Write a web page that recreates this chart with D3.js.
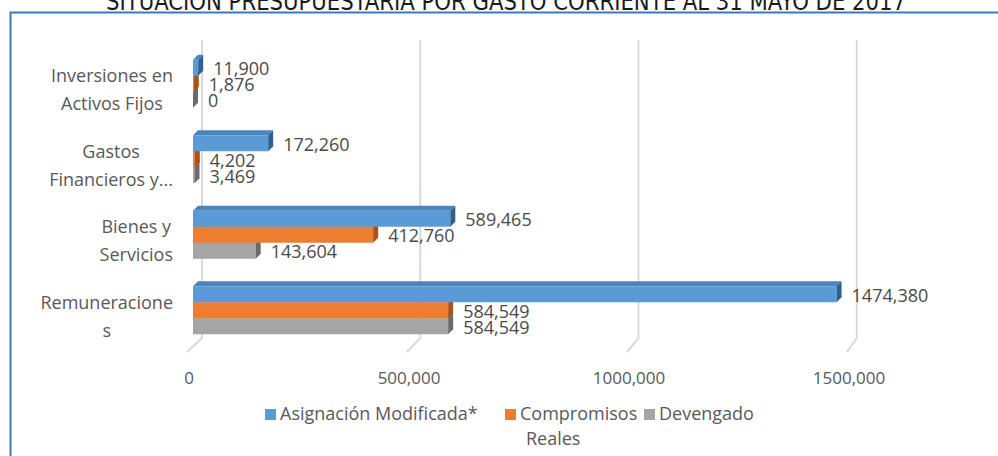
<!DOCTYPE html>
<html><head><meta charset="utf-8">
<script src="https://cdn.jsdelivr.net/npm/d3@7"></script>
<style>body{margin:0;background:#fff}svg{display:block}</style>
</head><body>
<svg id="c" width="998" height="456"></svg>
<script>
const title = "SITUACION PRESUPUESTARIA POR GASTO CORRIENTE AL 31 MAYO DE 2017";
const categories = ["Inversiones en Activos Fijos", "Gastos Financieros y...", "Bienes y Servicios", "Remuneraciones"];
const categoryLines = [["Inversiones en", "Activos Fijos"], ["Gastos", "Financieros y..."], ["Bienes y", "Servicios"], ["Remuneracione", "s"]];
const seriesNames = ["Asignación Modificada*", "Compromisos", "Devengado"];
const asignacion = [11900, 172260, 589465, 1474380];
const compromisos = [1876, 4202, 412760, 584549];
const devengado = [0, 3469, 143604, 584549];
const tickValues = [0, 500000, 1000000, 1500000];
const tickLabels = ["0", "500,000", "1000,000", "1500,000"];
const legendLabels = ["Asignación Modificada*", "Compromisos", "Devengado"];
const legendExtra = "Reales";

const seriesValues = [asignacion, compromisos, devengado];
const front = ["#5B9BD5", "#ED7D31", "#A5A5A5"];
const topC = ["#4A84BD", "#D46A22", "#929292"];
const sideC = ["#2F6090", "#A9531A", "#6B6B6B"];
const fmt = v => v >= 1000 ? Math.floor(v / 1000) + "," + String(v % 1000).padStart(3, "0") : String(v);
const FONT = "'Open Sans', 'Noto Sans', sans-serif";
const TXT = "#595959";

const svg = d3.select("#c");
svg.append("rect").attr("width", 998).attr("height", 456).attr("fill", "#fff");

// title (cut at top)
svg.append("text").attr("x", 106).attr("y", 9.5)
  .attr("textLength", 800).attr("lengthAdjust", "spacingAndGlyphs")
  .attr("font-family", "'Liberation Sans Narrow','Arial Narrow','DejaVu Sans Condensed',sans-serif")
  .attr("font-size", 24).attr("fill", "#1a1a1a").text(title);

// frame
svg.append("path").attr("d", "M10.5,460 L10.5,12.5 L1000,12.5")
  .attr("fill", "none").attr("stroke", "#3A78BF").attr("stroke-width", 2);

const x = d3.scaleLinear().domain([0, 1500000]).range([193, 193 + 654.75]);
const xFront = d3.scaleLinear().domain([0, 1500000]).range([187, 187 + 660]);
const y = d3.scaleBand().domain(categories).range([46, 348]).paddingInner(0.364).paddingOuter(0.182);
const ys = d3.scaleBand().domain(seriesNames).range([0, y.bandwidth()]);
const BX = 9, TOPY = 40, BACKY = 338, FRONTY = 352, D = 5;

// gridlines (back wall) + floor diagonals
const g = svg.append("g");
tickValues.forEach(t => {
  const xb = x(t) + BX, xf = xFront(t);
  g.append("path").attr("d", `M${xb},${TOPY} L${xb},${BACKY} L${xf},${FRONTY}`)
    .attr("fill", "none").attr("stroke", "#d9d9d9").attr("stroke-width", 2);
});
g.selectAll("text.tick").data(tickValues).join("text")
  .attr("x", d => xFront(d) + 2).attr("y", 378).attr("dy", "0.35em")
  .attr("text-anchor", "middle").attr("font-family", FONT).attr("font-size", 17)
  .attr("fill", TXT).text((d, i) => tickLabels[i]);

// bars
const bars = svg.append("g");
categories.forEach((c, ci) => {
  [2, 1, 0].forEach(si => {
    const v = seriesValues[si][ci];
    const x0 = x(0), x1 = x(v), yt = y(c) + ys(seriesNames[si]), h = ys.bandwidth();
    bars.append("polygon")
      .attr("points", `${x0},${yt} ${x1},${yt} ${x1 + D},${yt - D} ${x0 + D},${yt - D}`)
      .attr("fill", topC[si]);
    bars.append("rect").attr("x", x0).attr("y", yt).attr("width", x1 - x0).attr("height", h)
      .attr("fill", front[si]);
    bars.append("polygon")
      .attr("points", `${x1},${yt} ${x1 + D},${yt - D} ${x1 + D},${yt + h - D} ${x1},${yt + h}`)
      .attr("fill", sideC[si]);
  });
});
// value labels
const lab = svg.append("g");
categories.forEach((c, ci) => {
  seriesNames.forEach((s, si) => {
    const v = seriesValues[si][ci];
    lab.append("text").attr("x", x(v) + 15).attr("y", y(c) + ys(s) + ys.bandwidth() / 2 + 1)
      .attr("dy", "0.35em").attr("font-family", FONT).attr("font-size", 18)
      .attr("fill", "#4a4a4a").text(fmt(v));
  });
});

// category labels
const cl = svg.append("g");
categories.forEach((c, ci) => {
  const cy = y(c) + y.bandwidth() / 2 + 6;
  const lines = categoryLines[ci];
  const texts = lines.map((l, li) => cl.append("text")
    .attr("y", cy + (li - (lines.length - 1) / 2) * 28).attr("dy", "0.35em")
    .attr("text-anchor", "middle").attr("font-family", FONT).attr("font-size", 18)
    .attr("fill", TXT).text(l));
  const w = d3.max(texts, t => t.node().getComputedTextLength());
  texts.forEach(t => t.attr("x", 173 - w / 2));
});

// legend
const lg = svg.append("g");
const legX = [265, 505, 644];
legendLabels.forEach((l, i) => {
  lg.append("rect").attr("x", legX[i]).attr("y", 409).attr("width", 11).attr("height", 11).attr("fill", front[i]);
  lg.append("text").attr("x", legX[i] + 15).attr("y", 414).attr("dy", "0.35em")
    .attr("font-family", FONT).attr("font-size", 18).attr("fill", TXT).text(l);
});
lg.append("text").attr("x", 526).attr("y", 439).attr("dy", "0.35em")
  .attr("font-family", FONT).attr("font-size", 18).attr("fill", TXT).text(legendExtra);
</script>
</body></html>
